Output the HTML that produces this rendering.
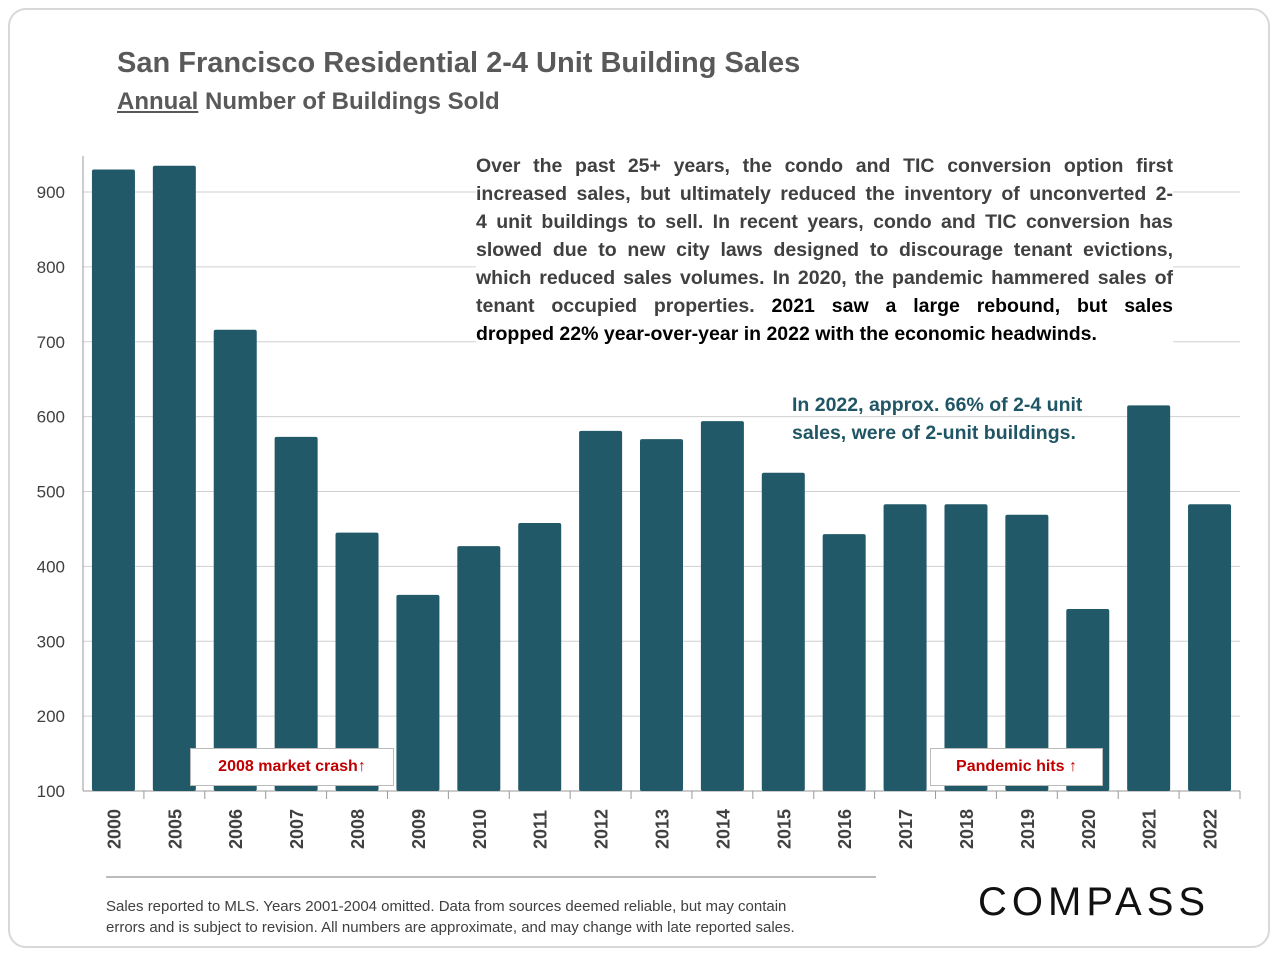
<!DOCTYPE html>
<html><head><meta charset="utf-8"><style>
body{margin:0;width:1280px;height:960px;background:#fff;font-family:"Liberation Sans",Arial,sans-serif;overflow:hidden}
.card{position:absolute;left:8px;top:8px;width:1262px;height:940px;border:2px solid #d8d8d8;border-radius:18px;box-sizing:border-box}
.ln{text-align:justify;text-align-last:justify;white-space:nowrap}
.ln.last{text-align-last:left}
</style></head><body>
<div class="card"></div>
<div style="position:absolute;left:117px;top:47px;font-size:29px;font-weight:bold;color:#595959">San Francisco Residential 2-4 Unit Building Sales</div>
<div style="position:absolute;left:117px;top:88px;font-size:24px;font-weight:bold;color:#595959"><u>Annual</u> Number of Buildings Sold</div>
<svg id="chart" width="1280" height="960" style="position:absolute;left:0;top:0"></svg>
<div style="position:absolute;left:476px;top:152px;width:697px;font-size:19.5px;line-height:28px;color:#404040;font-weight:bold;background:#fff">
<div class="ln">Over the past 25+ years, the condo and TIC conversion option first</div>
<div class="ln">increased sales, but ultimately reduced the inventory of unconverted 2-</div>
<div class="ln">4 unit buildings to sell. In recent years, condo and TIC conversion has</div>
<div class="ln">slowed due to new city laws designed to discourage tenant evictions,</div>
<div class="ln">which reduced sales volumes. In 2020, the pandemic hammered sales of</div>
<div class="ln">tenant occupied properties. <span style="color:#000">2021 saw a large rebound, but sales</span></div>
<div class="ln last" style="color:#000">dropped 22% year-over-year in 2022 with the economic headwinds.</div>
</div>
<div style="position:absolute;left:792px;top:391px;font-size:19.5px;line-height:28px;color:#1f5564;font-weight:bold">In 2022, approx. 66% of 2-4 unit<br>sales, were of 2-unit buildings.</div>
<div style="position:absolute;left:190px;top:748px;width:202px;height:36px;border:1px solid #bbb;background:#fff;color:#c00000;font-weight:bold;font-size:16px;line-height:36px;text-align:center">2008 market crash&#8593;</div>
<div style="position:absolute;left:930px;top:748px;width:171px;height:36px;border:1px solid #bbb;background:#fff;color:#c00000;font-weight:bold;font-size:16px;line-height:36px;text-align:center">Pandemic hits &#8593;</div>
<div style="position:absolute;left:106px;top:876px;width:770px;height:2px;background:#bbb"></div>
<div style="position:absolute;left:106px;top:896px;font-size:15px;line-height:21px;color:#404040">Sales reported to MLS. Years 2001-2004 omitted. Data from sources deemed reliable, but may contain<br>errors and is subject to revision. All numbers are approximate, and may change with late reported sales.</div>
<div style="position:absolute;left:978px;top:880px;font-size:40px;letter-spacing:5px;color:#111">COMPASS</div>
<script>
const categories=["2000","2005","2006","2007","2008","2009","2010","2011","2012","2013","2014","2015","2016","2017","2018","2019","2020","2021","2022"];
const sales=[930,935,716,573,445,362,427,458,581,570,594,525,443,483,483,469,343,615,483];
const yTicks=[100,200,300,400,500,600,700,800,900];
const svg=document.getElementById('chart');const NS='http://www.w3.org/2000/svg';
const L=83,R=1240,T0=791,PX=0.74875;
const y=v=>T0-(v-100)*PX;const bw=(R-L)/categories.length;const x=i=>L+bw*(i+0.5);
function mk(t,a){const e=document.createElementNS(NS,t);for(const k in a)e.setAttribute(k,a[k]);svg.appendChild(e);return e;}
yTicks.forEach(v=>{if(v>100){const g=mk('line',{x1:L,x2:R,y1:y(v),y2:y(v),stroke:'#d0d0d0','stroke-width':1});

}
const t=mk('text',{x:L-18,y:y(v)+6,'text-anchor':'end','font-size':17,fill:'#404040','font-family':'Liberation Sans, sans-serif'});t.textContent=v;

});
const ya=mk('line',{x1:L,x2:L,y1:156,y2:T0,stroke:'#999'});


const xa=mk('line',{x1:L,x2:R,y1:T0,y2:T0,stroke:'#999'});


categories.forEach((c,i)=>{const b=mk('rect',{x:x(i)-21.5,y:y(sales[i]),width:43,height:T0-y(sales[i]),fill:'#215968',rx:2});


const tk=mk('line',{x1:L+bw*(i+1),x2:L+bw*(i+1),y1:T0,y2:T0+8,stroke:'#999'});


const t=mk('text',{x:0,y:0,transform:`translate(${x(i)+7},${T0+58}) rotate(-90)`,'font-size':18,'font-weight':'bold',fill:'#404040','font-family':'Liberation Sans, sans-serif'});t.textContent=c;

});
</script>
</body></html>
